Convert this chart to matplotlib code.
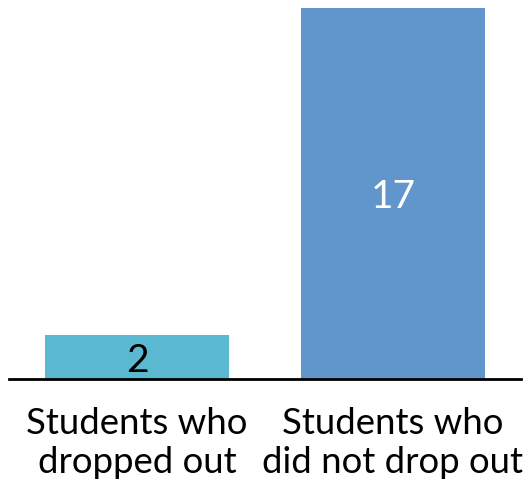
import matplotlib
matplotlib.use("Agg")
import matplotlib.pyplot as plt

categories = ["Students who\ndropped out", "Students who\ndid not drop out"]
counts = [2, 17]
bar_colors = ["#5BB8D1", "#6096CB"]
label_colors = ["black", "white"]

plt.rcParams["font.family"] = ["Lato", "DejaVu Sans"]

fig = plt.figure(figsize=(5.31, 4.87), dpi=100)
ax = fig.add_axes([9 / 531, 1 - 379 / 487, 512 / 531, 371 / 487])

x = list(range(len(categories)))
bars = ax.bar(x, counts, width=0.72, color=bar_colors)

ax.set_xlim(-0.5, 1.5)
ax.set_ylim(0, 17)

for rect, val, col in zip(bars, counts, label_colors):
    ax.text(rect.get_x() + rect.get_width() / 2, rect.get_height() / 2, str(val),
            ha="center", va="center_baseline", fontsize=28, color=col)

ax.set_xticks(x)
ax.set_xticklabels(categories, fontsize=26.3, linespacing=1.22)
ax.tick_params(axis="x", length=0, pad=20)
ax.set_yticks([])

for side in ["left", "right", "top"]:
    ax.spines[side].set_visible(False)
ax.spines["bottom"].set_linewidth(2)
ax.spines["bottom"].set_color("black")

fig.savefig("out.png", dpi=100)
